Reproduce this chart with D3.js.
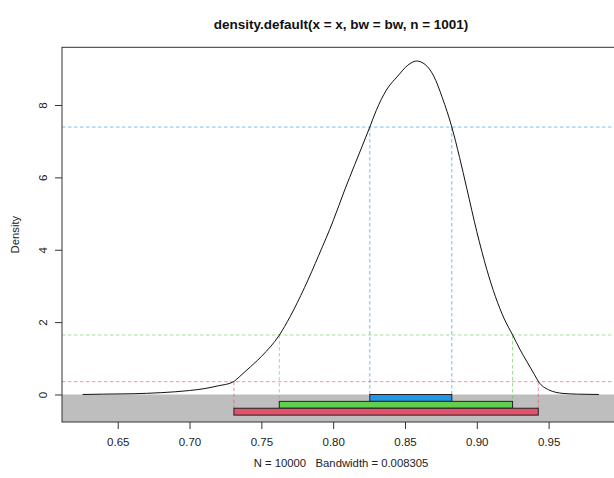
<!DOCTYPE html>
<html>
<head>
<meta charset="utf-8">
<script src="https://cdn.jsdelivr.net/npm/d3@7"></script>
<style>
  body { margin: 0; background: #fff; }
  svg { display: block; font-family: "Liberation Sans", Arial, sans-serif; }
</style>
</head>
<body>
<div id="chart"></div>
<script>
// density curve
const densX = [0.6256, 0.64, 0.66, 0.68, 0.70, 0.71, 0.72, 0.73, 0.735, 0.74, 0.75, 0.7625,
  0.77, 0.78, 0.79, 0.80, 0.808, 0.815, 0.8255, 0.83, 0.837, 0.845, 0.852, 0.858, 0.864,
  0.87, 0.876, 0.8826, 0.888, 0.893, 0.90, 0.907, 0.913, 0.919, 0.925, 0.93, 0.935, 0.94,
  0.943, 0.95, 0.96, 0.97, 0.985];
const densY = [0.0, 0.01, 0.02, 0.05, 0.11, 0.16, 0.24, 0.34, 0.5, 0.68, 1.05, 1.64,
  2.15, 2.95, 3.85, 4.8, 5.65, 6.35, 7.39, 7.85, 8.41, 8.8, 9.1, 9.215, 9.12,
  8.8, 8.2, 7.39, 6.55, 5.7, 4.5, 3.45, 2.7, 2.1, 1.64, 1.25, 0.9, 0.56,
  0.354, 0.13, 0.03, 0.01, 0.0];

// intervals (inner to outer)
const intLo = [0.8255, 0.7625, 0.7309];
const intHi = [0.8826, 0.9249, 0.9428];
const intLevel = [7.39, 1.644, 0.354];

const xTicks = [0.65, 0.70, 0.75, 0.80, 0.85, 0.90, 0.95];
const yTicks = [0, 2, 4, 6, 8];

const titleText = "density.default(x = x, bw = bw, n = 1001)";
const subText = "N = 10000   Bandwidth = 0.008305";

const barCols = ["#2297E6", "#61D04F", "#DF536B"];
const barH = 0.19;

const W = 614, H = 478;
const box = { left: 62, right: 620, top: 47.3, bottom: 422 };

const x = d3.scaleLinear().domain([0.6112, 0.9997]).range([box.left, box.right]);
const y = d3.scaleLinear().domain([-0.76, 9.594]).range([box.bottom, box.top]);

const svg = d3.select("#chart").append("svg")
  .attr("width", W).attr("height", H);
svg.append("rect").attr("width", W).attr("height", H).attr("fill", "#fff");

// gray ground under zero
svg.append("rect")
  .attr("x", box.left).attr("y", y(0))
  .attr("width", box.right - box.left).attr("height", box.bottom - y(0))
  .attr("fill", "#bebebe");

// horizontal dashed levels
svg.selectAll(null).data(intLevel).enter().append("line")
  .attr("x1", box.left).attr("x2", box.right)
  .attr("y1", d => y(d)).attr("y2", d => y(d))
  .attr("stroke", (d, i) => barCols[i]).attr("stroke-opacity", 0.6)
  .attr("stroke-dasharray", "3.5,2.5");

// vertical dashed lines down to bars
intLevel.forEach((lv, i) => {
  [intLo[i], intHi[i]].forEach(v => {
    svg.append("line")
      .attr("x1", x(v)).attr("x2", x(v))
      .attr("y1", y(lv)).attr("y2", y(-barH * i))
      .attr("stroke", barCols[i]).attr("stroke-opacity", 0.65)
      .attr("stroke-dasharray", "3.5,2.5");
  });
});

// bars
svg.selectAll(null).data(intLo).enter().append("rect")
  .attr("x", (d, i) => x(d))
  .attr("width", (d, i) => x(intHi[i]) - x(d))
  .attr("y", (d, i) => y(-barH * i))
  .attr("height", (d, i) => y(-barH * (i + 1)) - y(-barH * i))
  .attr("fill", (d, i) => barCols[i])
  .attr("stroke", "#222").attr("stroke-width", 1);

// density curve
svg.append("path")
  .datum(d3.zip(densX, densY))
  .attr("d", d3.line().x(d => x(d[0])).y(d => y(d[1])).curve(d3.curveMonotoneX))
  .attr("fill", "none").attr("stroke", "#111").attr("stroke-width", 1);

// box
svg.append("rect")
  .attr("x", box.left).attr("y", box.top)
  .attr("width", box.right - box.left).attr("height", box.bottom - box.top)
  .attr("fill", "none").attr("stroke", "#333").attr("stroke-width", 1);

// axes
const xAxis = svg.append("g")
  .attr("transform", "translate(0," + box.bottom + ")")
  .call(d3.axisBottom(x).tickValues(xTicks).tickFormat(d3.format(".2f")).tickSizeOuter(0).tickSize(7).tickPadding(9));
xAxis.select(".domain").remove();
xAxis.selectAll("line").attr("stroke", "#333");
xAxis.selectAll("text").attr("font-size", 11.5).attr("fill", "#222")
  .attr("font-family", "Liberation Sans, Arial, sans-serif");

const yAxis = svg.append("g")
  .attr("transform", "translate(" + box.left + ",0)")
  .call(d3.axisLeft(y).tickValues(yTicks).tickSizeOuter(0).tickSize(7).tickPadding(0));
yAxis.select(".domain").remove();
yAxis.selectAll("line").attr("stroke", "#333");
yAxis.selectAll("text")
  .attr("x", null).attr("dy", null)
  .attr("text-anchor", "middle")
  .attr("transform", "translate(-15.5,0) rotate(-90)")
  .attr("font-size", 11.5).attr("fill", "#222")
  .attr("font-family", "Liberation Sans, Arial, sans-serif");

// titles
const cx = (box.left + box.right) / 2;
svg.append("text").attr("x", cx).attr("y", 28.5)
  .attr("text-anchor", "middle").attr("font-weight", "bold")
  .attr("font-size", 13.5).attr("fill", "#111").text(titleText);

svg.append("text").attr("x", cx).attr("y", 466.5)
  .attr("text-anchor", "middle").attr("font-size", 11.3).attr("fill", "#222")
  .style("white-space", "pre").text(subText);

svg.append("text")
  .attr("transform", "translate(18.5," + ((box.top + box.bottom) / 2) + ") rotate(-90)")
  .attr("text-anchor", "middle").attr("font-size", 11.3).attr("fill", "#222")
  .text("Density");
</script>
</body>
</html>
